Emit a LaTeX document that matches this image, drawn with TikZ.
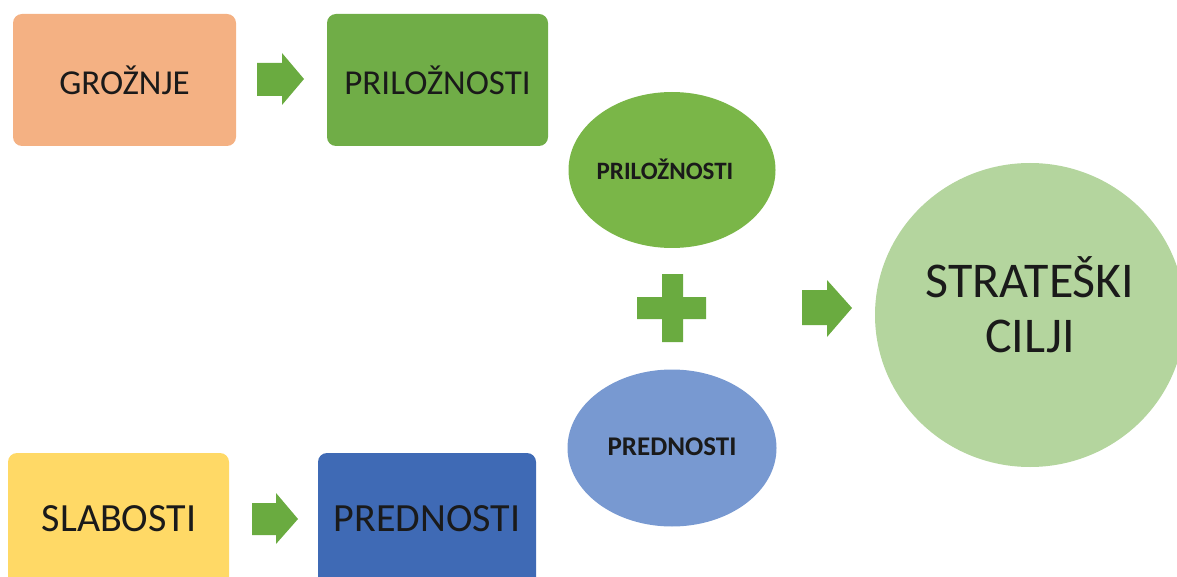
\documentclass[tikz,border=0pt]{standalone}
\usepackage{fontspec}
\setmainfont{Carlito}
\usetikzlibrary{shapes.geometric}
\definecolor{orangeB}{HTML}{F4B183}
\definecolor{greenB}{HTML}{70AD47}
\definecolor{greenE}{HTML}{7AB648}
\definecolor{greenL}{HTML}{B4D59E}
\definecolor{blueE}{HTML}{7899D1}
\definecolor{blueB}{HTML}{3F6AB5}
\definecolor{yellowB}{HTML}{FFD966}
\definecolor{arrowc}{HTML}{6AAB40}
\definecolor{txt}{HTML}{1A1A1A}
\tikzset{
  box/.style={inner sep=0pt, text=txt, font=\fontsize{35}{38}\selectfont},
  boxlow/.style={inner sep=0pt, text=txt, font=\fontsize{40}{44}\selectfont},
  ell/.style={ellipse, inner sep=0pt, text=txt},
  blockarrow/.style={fill=arrowc},
}
\begin{document}
\begin{tikzpicture}[x=1pt,y=-1pt]
\useasboundingbox (0,0) rectangle (1177,577);
% boxes
\fill[orangeB, rounded corners=9pt] (13,14) rectangle (236,146);
\node[box] (groznje) at (124.5,80) {GROŽNJE};
\fill[greenB, rounded corners=9pt] (327,14) rectangle (548,146);
\node[box] (prilB) at (437.5,80) {PRILOŽNOSTI};
\fill[yellowB, rounded corners=9pt] (8,453) rectangle (229,590);
\node[boxlow] (slab) at (119,519) {SLABOSTI};
\fill[blueB, rounded corners=9pt] (318,453) rectangle (536,590);
\node[boxlow] (predB) at (427,519) {PREDNOSTI};
% ellipses
\node[ell, fill=greenE, minimum width=207pt, minimum height=156pt] (prilE) at (672,170) {};
\node[text=txt, font=\bfseries\fontsize{25}{27}\selectfont, inner sep=0pt] (prilT) at (665,169) {PRILOŽNOSTI};
\node[ell, fill=blueE, minimum width=209pt, minimum height=157pt] (predE) at (672,448) {};
\node[text=txt, font=\bfseries\fontsize{27}{29}\selectfont, inner sep=0pt] (predT) at (672,447) {PREDNOSTI};
\node[ellipse, fill=greenL, inner sep=0pt, minimum width=310pt, minimum height=304pt] (cilji) at (1030,315) {};
\node[text=txt, font=\fontsize{50}{55}\selectfont, align=center, inner sep=0pt] (ciljiT) at (1030,305) {STRATEŠKI\\CILJI};
% block arrows
\fill[blockarrow] (257,63) -- (282,63) -- (282,53) -- (304,79) -- (282,105) -- (282,96) -- (257,96) -- cycle;
\fill[blockarrow] (252,503) -- (276,503) -- (276,493) -- (298,519) -- (276,544) -- (276,535) -- (252,535) -- cycle;
\fill[blockarrow] (802,290) -- (827,290) -- (827,280) -- (852,308) -- (827,337) -- (827,325) -- (802,325) -- cycle;
% plus
\fill[blockarrow] (662,274) -- (683,274) -- (683,297) -- (706,297) -- (706,319) -- (683,319) -- (683,342) -- (662,342) -- (662,319) -- (637,319) -- (637,297) -- (662,297) -- cycle;
\end{tikzpicture}
\end{document}
